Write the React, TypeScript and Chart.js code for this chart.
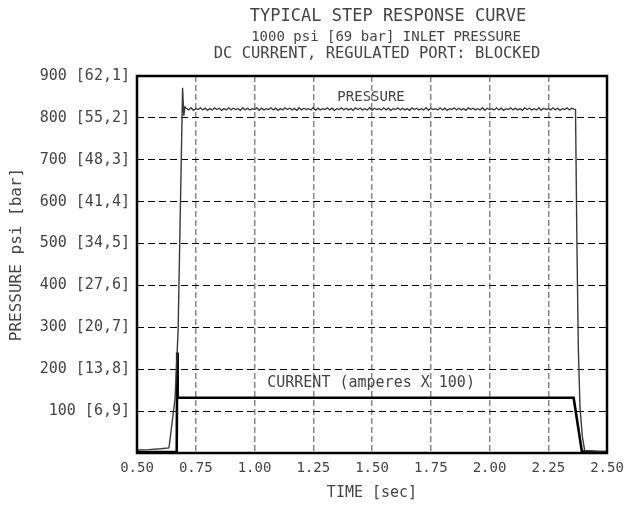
import { useEffect, useRef } from "react";
import { Chart, registerables } from "chart.js";

Chart.register(...registerables);

const FONT = "'DejaVu Sans Mono', 'Liberation Mono', monospace";
const TEXT = "#444";

const titleLines = [
  "TYPICAL STEP RESPONSE CURVE",
  "1000 psi [69 bar] INLET PRESSURE",
  "DC CURRENT, REGULATED PORT: BLOCKED",
];
const yAxisTitle = "PRESSURE psi [bar]";
const xAxisTitle = "TIME [sec]";
const xTickValues = [0.5, 0.75, 1.0, 1.25, 1.5, 1.75, 2.0, 2.25, 2.5];
const yTickValues = [0, 100, 200, 300, 400, 500, 600, 700, 800, 900];
const yTickLabels = [
  "",
  "100 [6,9]",
  "200 [13,8]",
  "300 [20,7]",
  "400 [27,6]",
  "500 [34,5]",
  "600 [41,4]",
  "700 [48,3]",
  "800 [55,2]",
  "900 [62,1]",
];

// Pressure: start-up segment (time sec, psi)
const pressureRiseTime = [0.5, 0.55, 0.6, 0.636, 0.662, 0.675, 0.694, 0.699, 0.704];
const pressureRiseValue = [7, 8, 10, 12, 130, 293, 872, 805, 826];
// Pressure plateau, sampled every 0.01 s from 0.71 s
const plateauStart = 0.71;
const plateauStep = 0.01;
const pressurePlateau = [
  823, 819, 824, 818, 822, 820, 824, 819, 823, 818,
  822, 819, 824, 820, 823, 818, 822, 819, 824, 819,
  823, 820, 822, 818, 824, 819, 823, 819, 822, 820,
  824, 818, 823, 819, 822, 820, 824, 819, 823, 818,
  822, 819, 824, 820, 823, 819, 822, 818, 824, 819,
  823, 820, 822, 819, 824, 818, 823, 819, 822, 820,
  824, 819, 823, 818, 822, 820, 824, 819, 823, 819,
  822, 818, 824, 820, 823, 819, 822, 819, 824, 818,
  823, 820, 822, 819, 824, 819, 823, 818, 822, 820,
  824, 819, 823, 819, 822, 818, 824, 820, 823, 819,
  822, 819, 824, 818, 823, 820, 822, 819, 824, 819,
  823, 818, 822, 820, 824, 819, 823, 819, 822, 818,
  824, 820, 823, 819, 822, 819, 824, 818, 823, 820,
  822, 819, 824, 819, 823, 818, 822, 820, 824, 819,
  823, 819, 822, 818, 824, 820, 823, 819, 822, 819,
  824, 818, 823, 820, 822, 819, 824, 819, 823, 818,
  822, 820, 824, 819, 823, 821,
];
// Pressure: shut-off segment
const pressureFallTime = [2.366, 2.372, 2.378, 2.385, 2.395, 2.405, 2.45, 2.5];
const pressureFallValue = [820, 500, 250, 110, 40, 6, 4, 2];

// Current (amperes x 100)
const currentTime = [0.5, 0.669, 0.671, 0.673, 2.358, 2.393, 2.45, 2.5];
const currentValue = [2, 2, 240, 132, 132, 4, 3, 2];

const pressureLabel = { text: "PRESSURE", t: 1.496, v: 850 };
const currentLabel = { text: "CURRENT (amperes X 100)", t: 1.496, v: 167 };

function buildPressure() {
  const pts: { x: number; y: number }[] = [];
  pressureRiseTime.forEach((t, i) => pts.push({ x: t, y: pressureRiseValue[i] }));
  pressurePlateau.forEach((v, i) =>
    pts.push({ x: +(plateauStart + i * plateauStep).toFixed(3), y: v })
  );
  pressureFallTime.forEach((t, i) => pts.push({ x: t, y: pressureFallValue[i] }));
  return pts;
}

function buildCurrent() {
  return currentTime.map((t, i) => ({ x: t, y: currentValue[i] }));
}

const overlayPlugin = {
  id: "overlay",
  afterDatasetsDraw(chart: any) {
    const { ctx, chartArea, scales } = chart;
    ctx.save();
    ctx.strokeStyle = "#000";
    ctx.lineWidth = 2.5;
    ctx.setLineDash([]);
    ctx.strokeRect(
      chartArea.left,
      chartArea.top,
      chartArea.right - chartArea.left,
      chartArea.bottom - chartArea.top
    );
    ctx.fillStyle = TEXT;
    ctx.textAlign = "center";
    ctx.textBaseline = "middle";
    ctx.font = `14px ${FONT}`;
    ctx.fillText(
      pressureLabel.text,
      scales.x.getPixelForValue(pressureLabel.t),
      scales.y.getPixelForValue(pressureLabel.v)
    );
    ctx.font = `15px ${FONT}`;
    ctx.fillText(
      currentLabel.text,
      scales.x.getPixelForValue(currentLabel.t),
      scales.y.getPixelForValue(currentLabel.v)
    );
    ctx.restore();
  },
  afterDraw(chart: any) {
    const { ctx, chartArea } = chart;
    const cx = (chartArea.left + chartArea.right) / 2 + 14;
    ctx.save();
    ctx.fillStyle = TEXT;
    ctx.textAlign = "center";
    ctx.textBaseline = "middle";
    ctx.font = `17px ${FONT}`;
    ctx.fillText(titleLines[0], cx + 2, 17);
    ctx.font = `14px ${FONT}`;
    ctx.fillText(titleLines[1], cx, 37);
    ctx.font = `15.5px ${FONT}`;
    ctx.fillText(titleLines[2], cx - 9, 54);
    // rotated y-axis title
    ctx.translate(17, (chartArea.top + chartArea.bottom) / 2 - 10);
    ctx.rotate(-Math.PI / 2);
    ctx.font = `16px ${FONT}`;
    ctx.fillText(yAxisTitle, 0, 0);
    ctx.restore();
  },
};

export default function App() {
  const ref = useRef<HTMLCanvasElement>(null);
  useEffect(() => {
    if (!ref.current) return;
    const chart = new Chart(ref.current, {
      type: "line",
      data: {
        datasets: [
          {
            label: "Pressure",
            data: buildPressure(),
            borderColor: "#3a3a3a",
            borderWidth: 1.4,
            pointRadius: 0,
            tension: 0,
          },
          {
            label: "Current",
            data: buildCurrent(),
            borderColor: "#000",
            borderWidth: 2.6,
            pointRadius: 0,
            tension: 0,
          },
        ],
      },
      options: {
        animation: false,
        responsive: true,
        maintainAspectRatio: false,
        layout: { padding: { top: 76, right: 17, bottom: 0, left: 0 } },
        plugins: {
          legend: { display: false },
          title: { display: false },
          tooltip: { enabled: false },
        },
        scales: {
          x: {
            type: "linear",
            min: 0.5,
            max: 2.5,
            afterBuildTicks: (s: any) => {
              s.ticks = xTickValues.map((v) => ({ value: v }));
            },
            afterFit: (s: any) => {
              s.height = 52;
              s.paddingLeft = 0;
              s.paddingRight = 0;
            },
            ticks: {
              autoSkip: false,
              maxRotation: 0,
              padding: 7,
              color: TEXT,
              font: { family: FONT, size: 14 },
              callback: (v: any) => Number(v).toFixed(2),
            },
            grid: {
              drawTicks: false,
              lineWidth: 1.5,
              color: (c: any) =>
                c.tick && (c.tick.value === 0.5 || c.tick.value === 2.5)
                  ? "rgba(0,0,0,0)"
                  : "#888",
            },
            border: { display: false, dash: [6, 3] },
            title: {
              display: true,
              text: xAxisTitle,
              color: TEXT,
              font: { family: FONT, size: 15 },
              padding: { top: 0, bottom: 3 },
            },
          },
          y: {
            type: "linear",
            min: 0,
            max: 900,
            afterBuildTicks: (s: any) => {
              s.ticks = yTickValues.map((v) => ({ value: v }));
            },
            afterFit: (s: any) => {
              s.width = 137;
              s.paddingTop = 0;
              s.paddingBottom = 0;
            },
            ticks: {
              autoSkip: false,
              padding: 7,
              color: TEXT,
              font: { family: FONT, size: 15 },
              callback: (v: any) => yTickLabels[yTickValues.indexOf(Number(v))] ?? "",
            },
            grid: {
              drawTicks: false,
              lineWidth: 1,
              color: (c: any) =>
                c.tick && (c.tick.value === 0 || c.tick.value === 900)
                  ? "rgba(0,0,0,0)"
                  : "#000",
            },
            border: { display: false, dash: [7, 4] },
            title: { display: false },
          },
        },
      },
      plugins: [overlayPlugin],
    } as any);
    return () => chart.destroy();
  }, []);
  return (
    <div
      style={{
        position: "absolute",
        left: 0,
        top: 0,
        width: 624,
        height: 505,
        background: "#fff",
      }}
    >
      <canvas ref={ref} />
    </div>
  );
}
